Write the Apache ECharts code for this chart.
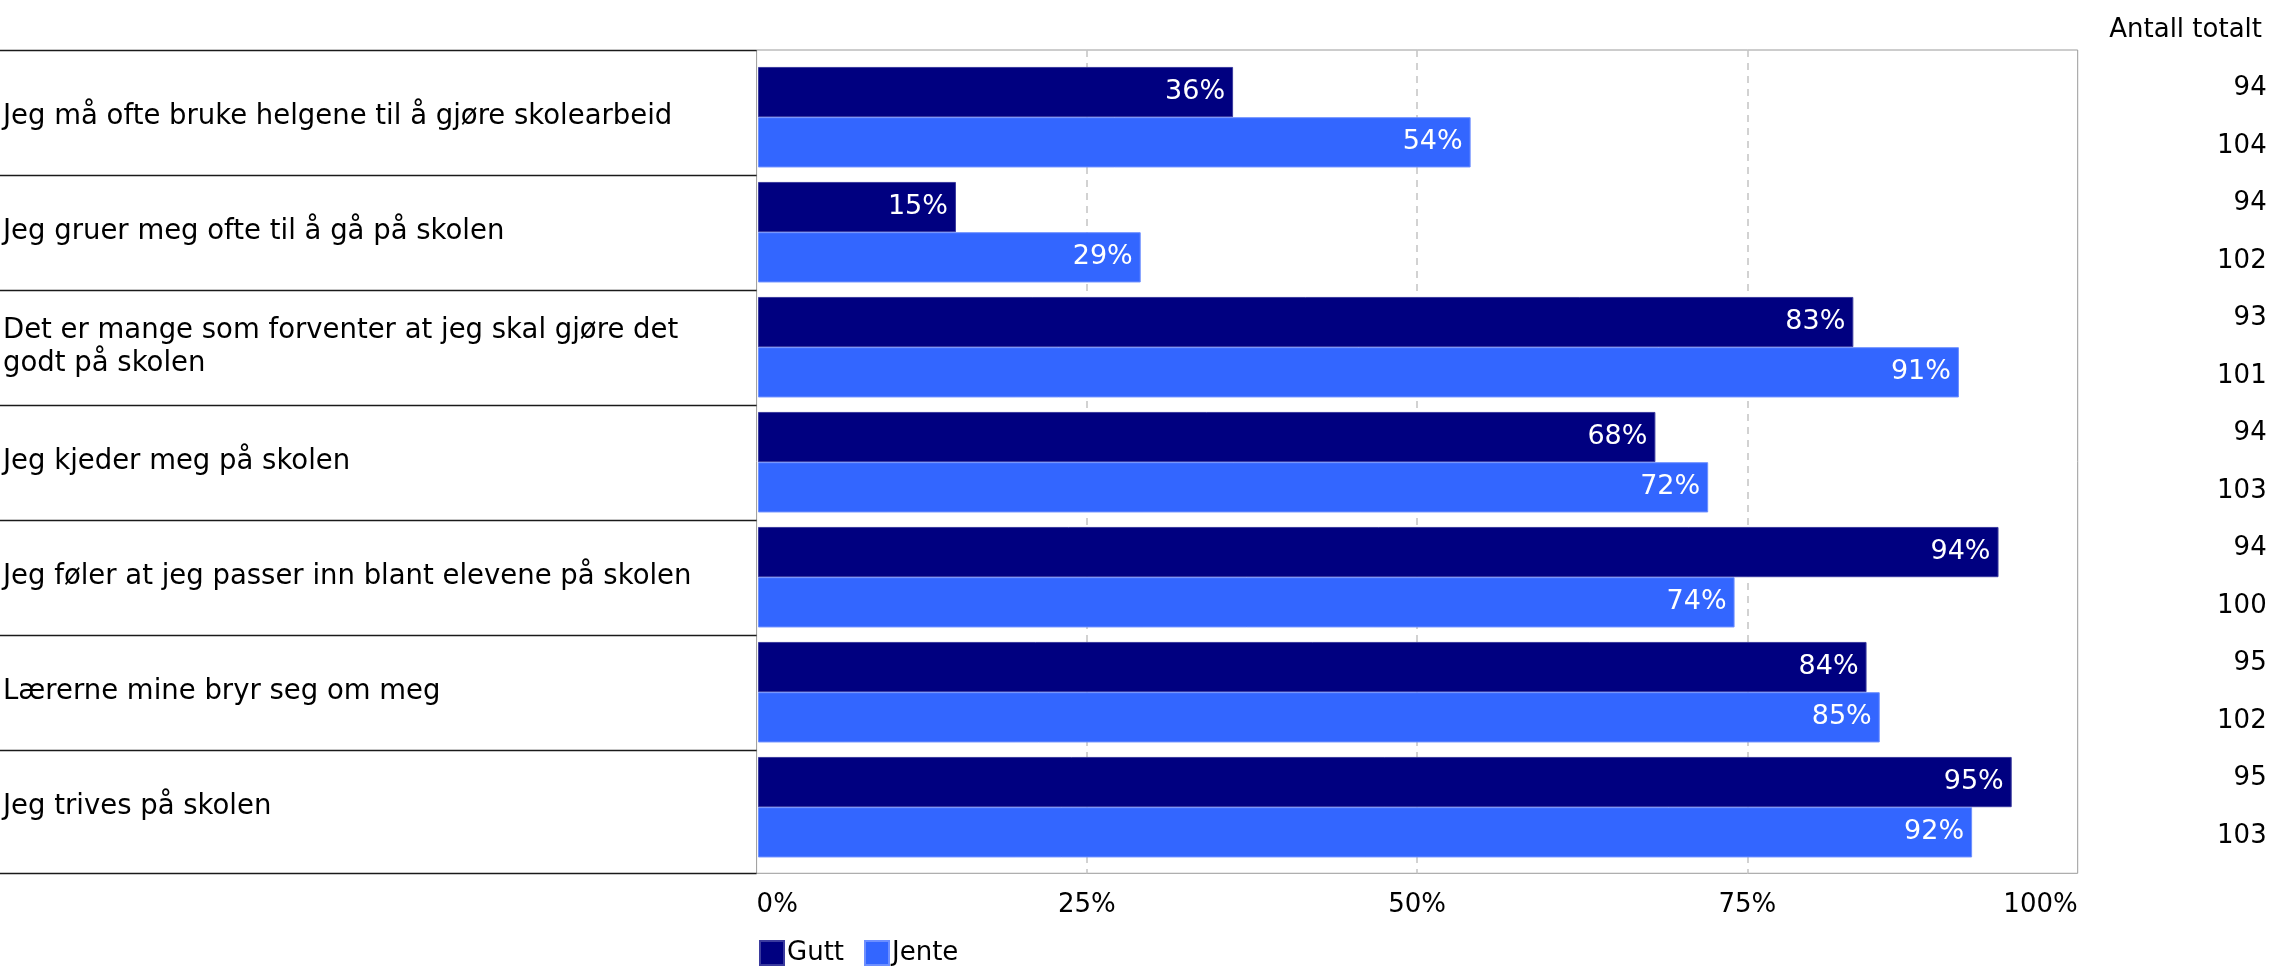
<!DOCTYPE html>
<html>
<head>
<meta charset="utf-8">
<script src="https://cdn.jsdelivr.net/npm/echarts@6/dist/echarts.min.js"></script>
<style>
html,body{margin:0;padding:0;background:#fff;}
#chart{width:2271px;height:972px;}
</style>
</head>
<body>
<div id="chart"></div>
<script>
// ---- data ----
const categories = [
  "Jeg må ofte bruke helgene til å gjøre skolearbeid",
  "Jeg gruer meg ofte til å gå på skolen",
  "Det er mange som forventer at jeg skal gjøre det godt på skolen",
  "Jeg kjeder meg på skolen",
  "Jeg føler at jeg passer inn blant elevene på skolen",
  "Lærerne mine bryr seg om meg",
  "Jeg trives på skolen"
];
const seriesNames = ["Gutt", "Jente"];
const gutt = [36, 15, 83, 68, 94, 84, 95];
const jente = [54, 29, 91, 72, 74, 85, 92];
const guttTotal = [94, 94, 93, 94, 94, 95, 95];
const jenteTotal = [104, 102, 101, 103, 100, 102, 103];
const xTicks = [0, 25, 50, 75, 100];
const countHeader = "Antall totalt";

// ---- layout / style ----
const W = 2271, H = 972;
const FONT = "DejaVu Sans";
const FS = 26;
const FS_CAT = 27.5;
const FS_LBL = 27;
const frame = { left: 756.6, right: W - 2077.7, top: 50, bottom: H - 873.3 };
const barGrid = { left: 756.6, right: W - 2077.7, top: 59.7, bottom: H - 864.7 };
const colors = ["#000080", "#3366FF"];
const borders = ["#3b3b9e", "#6d8fff"];

// counts interleaved per bar
const countLabels = [];
for (let i = 0; i < categories.length; i++) {
  countLabels.push(String(guttTotal[i]));
  countLabels.push(String(jenteTotal[i]));
}

const chart = echarts.init(document.getElementById('chart'), null, { renderer: 'canvas' });

const option = {
  animation: false,
  backgroundColor: '#fff',
  textStyle: { fontFamily: FONT },
  title: {
    text: countHeader,
    right: 4,
    top: 12,
    textStyle: { fontFamily: FONT, fontSize: FS, fontWeight: 'normal', color: '#000' }
  },
  legend: {
    data: seriesNames,
    left: 754,
    top: 935,
    itemWidth: 24,
    itemHeight: 24,
    itemGap: 20,
    icon: 'rect',
    textStyle: { fontFamily: FONT, fontSize: FS, color: '#000', padding: [0, 0, 0, -2] }
  },
  grid: [
    Object.assign({ show: true, borderColor: '#9a9a9a', borderWidth: 1, backgroundColor: 'transparent' }, frame),
    Object.assign({ show: false }, barGrid)
  ],
  xAxis: [
    {
      gridIndex: 0, type: 'value', min: xTicks[0], max: xTicks[xTicks.length - 1], interval: 25,
      axisLine: { show: false }, axisTick: { show: false },
      axisLabel: {
        formatter: '{value}%', fontFamily: FONT, fontSize: FS, color: '#000', margin: 19,
        alignMinLabel: 'left', alignMaxLabel: 'right'
      },
      splitLine: {
        show: true, showMinLine: false, showMaxLine: false,
        lineStyle: { color: '#c4c4c4', width: 1.5, type: [7, 6] }
      }
    },
    {
      gridIndex: 1, type: 'value', min: xTicks[0], max: xTicks[xTicks.length - 1], show: false
    }
  ],
  yAxis: [
    { gridIndex: 0, type: 'value', show: false, min: 0, max: 1 },
    {
      gridIndex: 1, type: 'category', inverse: true, data: categories,
      axisLine: { show: false }, axisTick: { show: false },
      axisLabel: {
        align: 'left', margin: 755, fontFamily: FONT, fontSize: FS_CAT, color: '#000',
        width: 745, overflow: 'break', lineHeight: 33
      }
    },
    {
      gridIndex: 1, type: 'category', inverse: true, position: 'right', data: countLabels,
      axisLine: { show: false }, axisTick: { show: false },
      axisLabel: { align: 'right', margin: 189, fontFamily: FONT, fontSize: FS, color: '#000', interval: 0 }
    }
  ],
  series: [gutt, jente].map((d, k) => ({
    name: seriesNames[k],
    type: 'bar',
    xAxisIndex: 1,
    yAxisIndex: 1,
    data: d,
    barGap: 0,
    barCategoryGap: '12.6%',
    itemStyle: { color: colors[k], borderColor: borders[k], borderWidth: 1 },
    label: {
      show: true, position: 'insideRight', distance: 8,
      formatter: '{c}%', color: '#fff', fontFamily: FONT, fontSize: FS_LBL
    }
  }))
};

chart.setOption(option);

// left table separator lines at category band boundaries
function drawSeparators() {
  const centers = categories.map((c, i) => chart.convertToPixel({ yAxisIndex: 1 }, i));
  const ys = [frame.top];
  for (let i = 0; i < centers.length - 1; i++) ys.push((centers[i] + centers[i + 1]) / 2);
  ys.push(H - frame.bottom);
  const x1 = chart.convertToPixel({ xAxisIndex: 0 }, xTicks[0]);
  chart.setOption({
    graphic: ys.map(y => ({
      type: 'line',
      shape: { x1: 0, y1: Math.round(y) + 0.5, x2: x1, y2: Math.round(y) + 0.5 },
      style: { stroke: '#1a1a1a', lineWidth: 1.5 },
      silent: true
    }))
  });
}
drawSeparators();
</script>
</body>
</html>
